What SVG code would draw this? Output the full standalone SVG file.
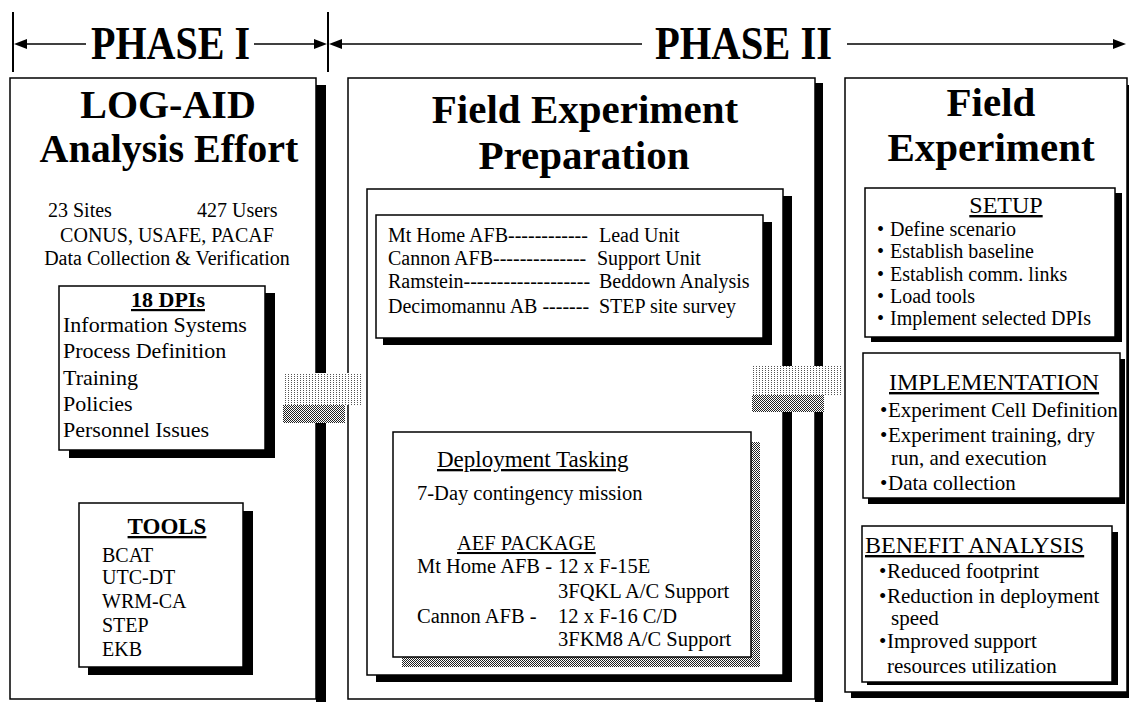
<svg xmlns="http://www.w3.org/2000/svg" width="1129" height="702" viewBox="0 0 1129 702">
<style>
text { font-family: "Liberation Serif", "Times New Roman", serif; fill: #000; }
.b { font-weight: bold; }
.u { text-decoration: underline; }
.mid { text-anchor: middle; }
.box { fill: #fff; stroke: #000; stroke-width: 1.5; }
.sh { fill: #000; }
.gsh { fill: url(#dotsDark); }
.ln { stroke: #000; stroke-width: 1.6; fill: none; }
.ah { fill: #000; }
.title { font-size: 41px; font-weight: bold; }
.f20 { font-size: 20px; }
.f205 { font-size: 20.5px; }
.f21 { font-size: 21px; }
.f22 { font-size: 22px; }
.h24 { font-size: 24px; }
</style>
<defs>
  <pattern id="dotsLight" width="3" height="2" patternUnits="userSpaceOnUse">
    <rect width="3" height="2" fill="#fff"/>
    <rect x="0" y="0" width="1" height="1" fill="#555"/>
  </pattern>
  <pattern id="dotsDark" width="2" height="2" patternUnits="userSpaceOnUse">
    <rect width="2" height="2" fill="#fff"/>
    <rect x="0" y="0" width="1" height="1" fill="#222"/>
    <rect x="1" y="1" width="1" height="1" fill="#222"/>
  </pattern>
</defs>
<rect width="1129" height="702" fill="#fff"/>

<g id="header">
  <line class="ln" x1="13" y1="12" x2="13" y2="72" style="stroke-width:2"/>
  <line class="ln" x1="328" y1="12" x2="328" y2="72" style="stroke-width:2"/>
  <text class="b" x="91" y="59" font-size="46" textLength="159" lengthAdjust="spacingAndGlyphs">PHASE I</text>
  <text class="b" x="655" y="59" font-size="46" textLength="177" lengthAdjust="spacingAndGlyphs">PHASE II</text>
</g>

<g id="panel-log-aid">
  <rect class="sh" x="316" y="85" width="10" height="617"/>
  <rect class="box" x="10" y="78" width="306" height="621"/>
  <text class="b mid" x="168" y="118" font-size="40">LOG-AID</text>
  <text class="b mid" x="169" y="162" font-size="40">Analysis Effort</text>
  <text class="f20" x="48" y="217">23 Sites</text>
  <text class="f20" x="197" y="217">427 Users</text>
  <text class="f20 mid" x="167" y="242">CONUS, USAFE, PACAF</text>
  <text class="f20 mid" x="167" y="265">Data Collection &amp; Verification</text>
</g>

<g id="box-dpis">
  <rect class="sh" x="69" y="293" width="206" height="165"/>
  <rect class="box" x="59" y="286" width="206" height="164"/>
  <text class="b u mid" x="168" y="307" font-size="22">18 DPIs</text>
  <text class="f22" x="63" y="332">Information Systems</text>
  <text class="f22" x="63" y="358">Process Definition</text>
  <text class="f22" x="63" y="385">Training</text>
  <text class="f22" x="63" y="411">Policies</text>
  <text class="f22" x="63" y="437">Personnel Issues</text>
</g>

<g id="box-tools">
  <rect class="sh" x="88" y="511" width="165" height="164"/>
  <rect class="box" x="79" y="503" width="164" height="164"/>
  <text class="b u mid" x="167" y="534" font-size="23">TOOLS</text>
  <text class="f20" x="102" y="562">BCAT</text>
  <text class="f20" x="102" y="584">UTC-DT</text>
  <text class="f20" x="102" y="608">WRM-CA</text>
  <text class="f20" x="102" y="632">STEP</text>
  <text class="f20" x="102" y="656">EKB</text>
</g>

<g id="panel-preparation">
  <rect class="sh" x="815" y="83" width="8" height="619"/>
  <rect class="box" x="348" y="78" width="467" height="621"/>
  <text class="title mid" x="585" y="123">Field Experiment</text>
  <text class="title mid" x="584" y="169">Preparation</text>
</g>

<g id="box-preparation-inner">
  <rect class="sh" x="376" y="196" width="416" height="486"/>
  <rect class="box" x="367" y="189" width="416" height="486"/>
</g>

<g id="box-sites">
  <rect class="sh" x="383" y="222" width="389" height="123"/>
  <rect class="box" x="376" y="215" width="387" height="123"/>
  <text class="f20" x="388" y="242">Mt Home AFB------------<tspan x="599">Lead Unit</tspan></text>
  <text class="f20" x="388" y="265">Cannon AFB--------------<tspan x="597">Support Unit</tspan></text>
  <text class="f20" x="388" y="288">Ramstein-------------------<tspan x="599">Beddown Analysis</tspan></text>
  <text class="f20" x="388" y="313">Decimomannu AB -------<tspan x="599">STEP site survey</tspan></text>
</g>

<g id="box-tasking">
  <rect class="gsh" x="402" y="442" width="358" height="225"/>
  <rect class="box" x="393" y="432" width="358" height="225"/>
  <text class="u" x="437" y="467" font-size="23">Deployment Tasking</text>
  <text class="f205" x="417" y="500">7-Day contingency mission</text>
  <text class="f205 u" x="457" y="550">AEF PACKAGE</text>
  <text class="f205" x="417" y="573">Mt Home AFB -<tspan x="558">12 x F-15E</tspan></text>
  <text class="f205" x="558" y="598">3FQKL A/C Support</text>
  <text class="f205" x="417" y="623">Cannon AFB -<tspan x="558">12 x F-16 C/D</tspan></text>
  <text class="f205" x="558" y="646">3FKM8 A/C Support</text>
</g>

<g id="panel-field-experiment">
  <rect class="sh" x="851" y="85" width="290" height="613"/>
  <rect class="box" x="845" y="78" width="282" height="614"/>
  <text class="title mid" x="991" y="116">Field</text>
  <text class="title mid" x="991" y="161">Experiment</text>
</g>

<g id="box-setup">
  <rect class="sh" x="871" y="193" width="251" height="149"/>
  <rect class="box" x="865" y="188" width="250" height="149"/>
  <text class="h24 u mid" x="1006" y="213">SETUP</text>
  <text class="f20"><tspan x="877" y="236">•</tspan><tspan x="890">Define scenario</tspan></text>
  <text class="f20"><tspan x="877" y="258.3">•</tspan><tspan x="890">Establish baseline</tspan></text>
  <text class="f20"><tspan x="877" y="280.6">•</tspan><tspan x="890">Establish comm. links</tspan></text>
  <text class="f20"><tspan x="877" y="302.9">•</tspan><tspan x="890">Load tools</tspan></text>
  <text class="f20"><tspan x="877" y="325.2">•</tspan><tspan x="890">Implement selected DPIs</tspan></text>
</g>

<g id="box-implementation">
  <rect class="sh" x="868" y="359" width="257" height="145"/>
  <rect class="box" x="863" y="353" width="257" height="145"/>
  <text class="h24 u" x="889" y="390">IMPLEMENTATION</text>
  <text class="f21"><tspan x="880" y="417">•</tspan><tspan x="888">Experiment Cell Definition</tspan></text>
  <text class="f21"><tspan x="880" y="442">•</tspan><tspan x="888">Experiment training, dry</tspan></text>
  <text class="f21" x="891" y="465">run, and execution</text>
  <text class="f21"><tspan x="880" y="490">•</tspan><tspan x="888">Data collection</tspan></text>
</g>

<g id="box-benefit">
  <rect class="sh" x="867" y="532" width="251" height="153"/>
  <rect class="box" x="862" y="526" width="250" height="156"/>
  <text class="h24 u" x="865" y="553">BENEFIT ANALYSIS</text>
  <text class="f21"><tspan x="879" y="578">•</tspan><tspan x="887">Reduced footprint</tspan></text>
  <text class="f21"><tspan x="879" y="603">•</tspan><tspan x="887">Reduction in deployment</tspan></text>
  <text class="f21" x="891" y="625">speed</text>
  <text class="f21"><tspan x="879" y="648">•</tspan><tspan x="887">Improved support</tspan></text>
  <text class="f21" x="887" y="673">resources utilization</text>
</g>

<g id="connectors">
  <line class="ln" x1="26" y1="44" x2="86" y2="44"/>
  <polygon class="ah" points="14,44 27,39 27,49"/>
  <line class="ln" x1="254" y1="44" x2="315" y2="44"/>
  <polygon class="ah" points="327,44 314,39 314,49"/>
  <line class="ln" x1="341" y1="44" x2="642" y2="44"/>
  <polygon class="ah" points="329,44 342,39 342,49"/>
  <line class="ln" x1="847" y1="44" x2="1114" y2="44"/>
  <polygon class="ah" points="1126,44 1113,39 1113,49"/>
  <g id="flow-1-2">
    <rect x="283" y="373" width="78" height="32" fill="url(#dotsLight)"/>
    <rect x="283" y="405" width="62" height="18" fill="url(#dotsDark)"/>
  </g>
  <g id="flow-2-3">
    <rect x="752" y="366" width="90" height="29" fill="url(#dotsLight)"/>
    <rect x="752" y="395" width="72" height="17" fill="url(#dotsDark)"/>
  </g>
</g>
</svg>
